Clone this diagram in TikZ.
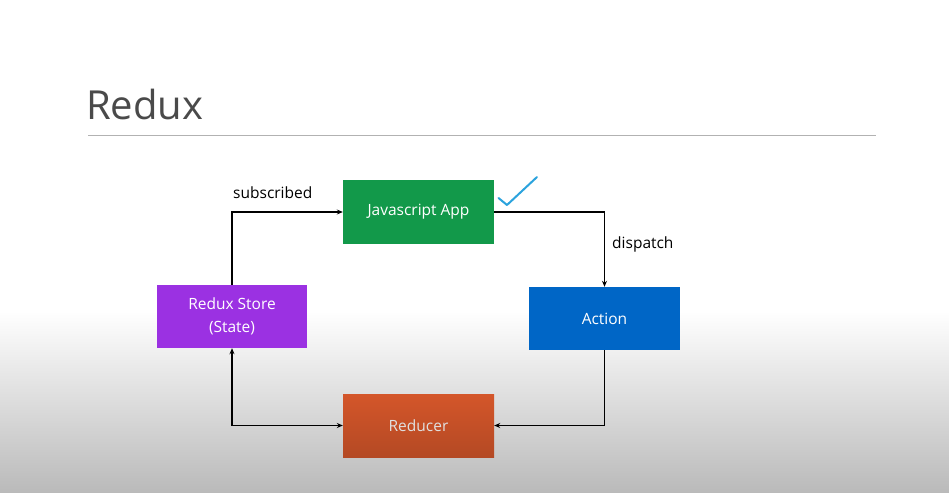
\documentclass[tikz,border=0pt]{standalone}
\usepackage{fontspec}
\setmainfont{Open Sans}
\usetikzlibrary{arrows.meta}
\definecolor{jsgreen}{HTML}{12994A}
\definecolor{storepurple}{HTML}{9B31E2}
\definecolor{actblue}{HTML}{0066C6}
\definecolor{redorange}{HTML}{D4562A}
\definecolor{checkblue}{HTML}{2BA3DD}
\definecolor{titlegray}{HTML}{4A4A4A}
\tikzset{
  box/.style={draw=none, inner sep=0pt, minimum width=151pt, minimum height=64pt, text=white, font=\fontsize{15.5}{22.5}\selectfont, align=center},
  conn/.style={line width=1.4pt, -{Stealth[length=6pt,width=5pt]}},
  lbl/.style={font=\fontsize{15.5}{19}\selectfont, text=black, inner sep=0pt}
}
\begin{document}
\begin{tikzpicture}[x=1pt,y=-1pt]
\useasboundingbox (0,0) rectangle (949,492);
\fill[white] (0,0) rectangle (949,312);
\shade[top color=white, bottom color=black!27] (0,311) rectangle (949,492);
% title
\node[anchor=base west, inner sep=0pt, text=titlegray, font=\fontsize{40}{48}\selectfont] (title) at (86,119) {Redux};
\draw[line width=1pt, black!30] (88,135) -- (876,135);
% boxes
\node[box, fill=jsgreen] (js) at (418.5,212) {Javascript App};
\node[box, fill=storepurple, minimum width=150pt, minimum height=63pt] (store) at (232,316.5) {Redux Store\\(State)};
\node[box, fill=actblue, minimum height=63pt] (act) at (604.5,318.5) {Action};
\node[box, top color=redorange, bottom color=redorange!85!black, minimum height=63pt, text=white!88!black] (red) at (418.5,425.5) {Reducer};
% check mark
\draw[checkblue, line width=2pt, line cap=round, line join=round] (498.5,198) -- (507,205) -- (537,177);
% connectors
\coordinate (c1) at (store.north |- js.west);
\coordinate (c2) at (act.north |- js.east);
\coordinate (c3) at (act.south |- red.east);
\coordinate (c4) at (store.south |- red.west);
\draw[conn] (store.north) -- (c1) -- (js.west);
\draw[conn] (js.east) -- (c2) -- (act.north);
\draw[conn] (act.south) -- (c3) -- (red.east);
\draw[line width=1.4pt, {Stealth[length=6pt,width=5pt]}-{Stealth[length=6pt,width=5pt]}] (store.south) -- (c4) -- (red.west);
% labels
\node[lbl, anchor=west] (sub) at (233,193) {subscribed};
\node[lbl, anchor=west] (disp) at (612,244) {dispatch};
\end{tikzpicture}
\end{document}
